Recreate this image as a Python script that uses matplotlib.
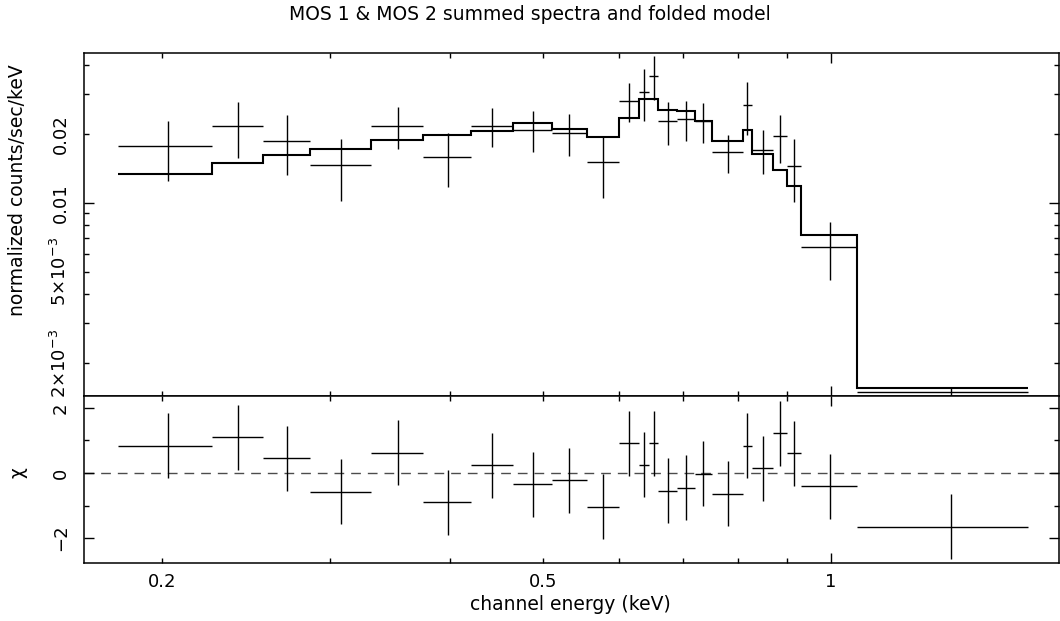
import matplotlib
matplotlib.use('Agg')
import matplotlib.pyplot as plt
import numpy as np

# channel bin edges (keV)
edges = [0.180, 0.2254, 0.2551, 0.2855, 0.3305, 0.3751, 0.4204, 0.4656, 0.5108,
         0.5556, 0.6006, 0.6307, 0.6460, 0.6602, 0.6901, 0.7212, 0.7507, 0.8100,
         0.8265, 0.8706, 0.9005, 0.9300, 1.0658, 1.6055]
rate = [0.01769, 0.02169, 0.01871, 0.01461, 0.02169, 0.01593, 0.02176, 0.02089,
        0.02016, 0.01503, 0.02797, 0.03052, 0.03596, 0.02281, 0.02334, 0.02274,
        0.01665, 0.02688, 0.01703, 0.01962, 0.01455, 0.00645, 0.00150]
rate_err = [0.0052, 0.0060, 0.0055, 0.0044, 0.0045, 0.0042, 0.0042, 0.0042,
            0.0042, 0.0045, 0.0054, 0.0078, 0.0079, 0.0049, 0.0046, 0.0045,
            0.0031, 0.0070, 0.0037, 0.0046, 0.0044, 0.00184, 0.00005]
model = [0.01334, 0.0150, 0.01615, 0.01721, 0.01890, 0.01975, 0.02069, 0.02242,
         0.02098, 0.01948, 0.02344, 0.02854, 0.02854, 0.02548, 0.02529, 0.02274,
         0.01871, 0.02084, 0.01637, 0.01393, 0.01186, 0.00725, 0.00155]
chi = [0.84, 1.10, 0.45, -0.58, 0.63, -0.90, 0.24, -0.35, -0.22, -1.04, 0.91,
       0.26, 0.92, -0.55, -0.45, -0.03, -0.64, 0.84, 0.14, 1.22, 0.61, -0.41, -1.66]

edges = np.array(edges)
lo = edges[:-1]
hi = edges[1:]
cen = (lo + hi) / 2
xerr = [cen - lo, hi - cen]

plt.rcParams['font.family'] = 'DejaVu Sans'
plt.rcParams['mathtext.default'] = 'regular'
plt.rcParams['axes.linewidth'] = 1.1

W, H = 1060, 621
fig = plt.figure(figsize=(W / 100, H / 100), dpi=100)
L, R = 84 / W, 1059 / W
ax1 = fig.add_axes([L, 1 - 396 / H, R - L, (396 - 53) / H])
ax2 = fig.add_axes([L, 1 - 563 / H, R - L, (563 - 396) / H], sharex=ax1)

# top: data and folded model
ax1.errorbar(cen, rate, xerr=xerr, yerr=rate_err, fmt='none', ecolor='black',
             elinewidth=1.0, capsize=0)
ax1.stairs(model, edges, baseline=None, color='black', linewidth=1.5)
ax1.set_xscale('log')
ax1.set_yscale('log')
ax1.set_xlim(0.1658, 1.7316)
ax1.set_ylim(1.436e-3, 0.04518)

# bottom: residuals
ax2.errorbar(cen, chi, xerr=xerr, yerr=np.ones(len(chi)), fmt='none',
             ecolor='black', elinewidth=1.0, capsize=0)
ax2.axhline(0, color='black', linestyle=(0, (7, 5)), linewidth=1.0, alpha=0.7)
ax2.set_ylim(-2.769, 2.369)

for ax in (ax1, ax2):
    ax.set_xticks([1])
    ax.set_xticks([0.2, 0.3, 0.4, 0.5, 0.6, 0.7, 0.8, 0.9], minor=True)
    ax.tick_params(which='both', direction='in', top=True, right=True,
                   labelsize=13, width=1.0)
    ax.tick_params(which='major', length=7, pad=7)
    ax.tick_params(which='minor', length=3.5, pad=7)

ax1.tick_params(which='both', labelbottom=False)
ax2.set_xticklabels(['1'])
ax2.set_xticklabels(['0.2', '', '', '0.5', '', '', '', ''], minor=True)

ax1.set_yticks([0.01])
ax1.set_yticks([0.002, 0.003, 0.004, 0.005, 0.006, 0.007, 0.008, 0.009,
                0.02, 0.03, 0.04], minor=True)
ax1.set_yticklabels(['0.01'])
ax1.set_yticklabels(['2×10$^{-3}$', '', '', '5×10$^{-3}$', '', '', '', '',
                     '0.02', '', ''], minor=True)

ax2.set_yticks([-2, 0, 2])
ax2.set_yticks([-1, 1], minor=True)
ax2.set_yticklabels(['−2', '0', '2'])

for ax in (ax1, ax2):
    ax.tick_params(axis='y', which='both', pad=10)
    for lab in ax.get_yticklabels(which='both'):
        lab.set_rotation(90)
        lab.set_va('center')
        lab.set_ha('right')

fig.text(0.5, 1 - 15 / H, 'MOS 1 & MOS 2 summed spectra and folded model',
         ha='center', va='center', fontsize=13.5)
fig.text(570 / W, 1 - 604 / H, 'channel energy (keV)', ha='center', va='center',
         fontsize=13.5)
fig.text(18 / W, 1 - 190 / H, 'normalized counts/sec/keV', rotation=90,
         ha='center', va='center', fontsize=13.5)
fig.text(18 / W, 1 - 473 / H, 'χ', rotation=90, ha='center', va='center',
         fontsize=13.5)

fig.savefig('out.png', dpi=100)
